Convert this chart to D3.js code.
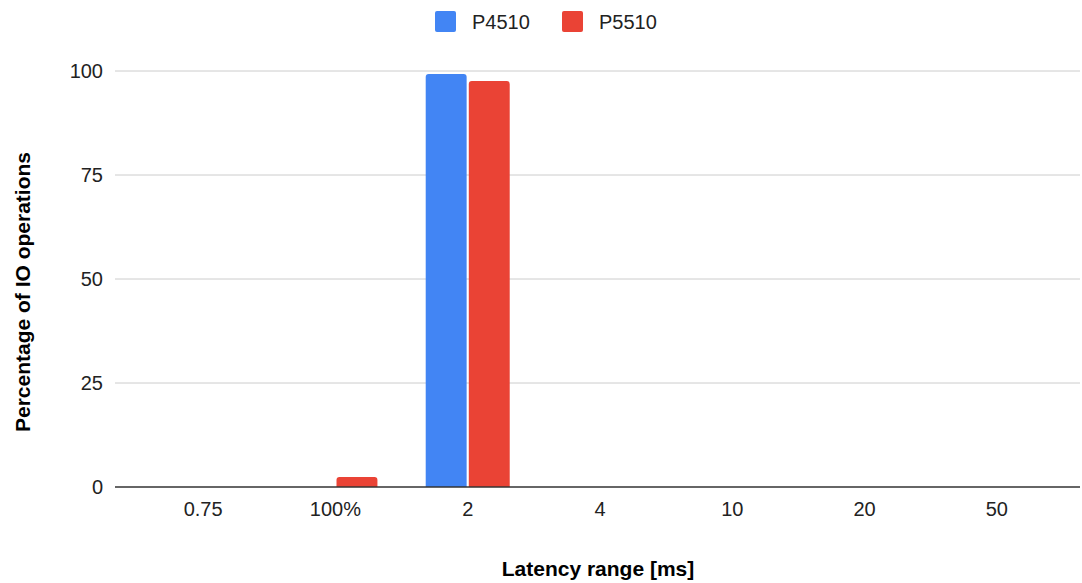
<!DOCTYPE html>
<html>
<head>
<meta charset="utf-8">
<script src="https://cdn.jsdelivr.net/npm/d3@7"></script>
<style>
  body { margin: 0; background: #fff; font-family: "Liberation Sans", Arial, sans-serif; }
  svg text { font-family: "Liberation Sans", Arial, sans-serif; }
</style>
</head>
<body>
<div id="chart"></div>
<script>
// data
var categories = ["0.75", "100%", "2", "4", "10", "20", "50"];
var seriesNames = ["P4510", "P5510"];
var p4510 = [0, 0, 99.3, 0, 0, 0, 0];
var p5510 = [0, 2.4, 97.6, 0, 0, 0, 0];
var yTicks = [0, 25, 50, 75, 100];
var colors = ["#4285F4", "#EA4335"];

var width = 1082, height = 583;

var svg = d3.select("#chart").append("svg")
  .attr("width", width)
  .attr("height", height);

var x = d3.scaleBand()
  .domain(categories)
  .range([137, 1063]);

var xInner = d3.scaleBand()
  .domain(seriesNames)
  .range([0, x.bandwidth() * 0.635])
  .paddingInner(0.05);

var y = d3.scaleLinear()
  .domain([0, 100])
  .range([487, 71]);

// gridlines
svg.append("g").selectAll("line")
  .data(yTicks.filter(function(d) { return d !== 0; }))
  .enter().append("line")
  .attr("x1", 115).attr("x2", 1080)
  .attr("y1", function(d) { return y(d); })
  .attr("y2", function(d) { return y(d); })
  .attr("stroke", "#cccccc")
  .attr("stroke-width", 1);

// y tick labels
svg.append("g").selectAll("text")
  .data(yTicks)
  .enter().append("text")
  .attr("x", 103)
  .attr("y", function(d) { return y(d); })
  .attr("dy", "0.35em")
  .attr("text-anchor", "end")
  .attr("font-size", 20)
  .attr("fill", "#222")
  .text(function(d) { return d; });

// bars
var rows = categories.map(function(c, i) {
  return { cat: c, vals: [p4510[i], p5510[i]] };
});

function barPath(x0, w, yTop, yBase) {
  var r = Math.min(3, (yBase - yTop) / 2, w / 2);
  return "M" + x0 + "," + yBase +
    "V" + (yTop + r) +
    "Q" + x0 + "," + yTop + " " + (x0 + r) + "," + yTop +
    "H" + (x0 + w - r) +
    "Q" + (x0 + w) + "," + yTop + " " + (x0 + w) + "," + (yTop + r) +
    "V" + yBase + "Z";
}

var groupOffset = (x.bandwidth() - xInner.range()[1]) / 2;

var groups = svg.append("g").selectAll("g")
  .data(rows)
  .enter().append("g")
  .attr("transform", function(d) { return "translate(" + (x(d.cat) + groupOffset) + ",0)"; });

groups.selectAll("path")
  .data(function(d) {
    return d.vals.map(function(v, j) { return { name: seriesNames[j], v: v, j: j }; })
      .filter(function(e) { return e.v > 0; });
  })
  .enter().append("path")
  .attr("d", function(d) { return barPath(xInner(d.name), xInner.bandwidth(), y(d.v), y(0)); })
  .attr("fill", function(d) { return colors[d.j]; });

// baseline
svg.append("line")
  .attr("x1", 115).attr("x2", 1080)
  .attr("y1", y(0)).attr("y2", y(0))
  .attr("stroke", "#333")
  .attr("stroke-width", 1.5);

// x labels
svg.append("g").selectAll("text")
  .data(categories)
  .enter().append("text")
  .attr("x", function(d) { return x(d) + x.bandwidth() / 2; })
  .attr("y", 516)
  .attr("text-anchor", "middle")
  .attr("font-size", 20)
  .attr("fill", "#222")
  .text(function(d) { return d; });

// axis titles
svg.append("text")
  .attr("x", 598).attr("y", 576)
  .attr("text-anchor", "middle")
  .attr("font-size", 21)
  .attr("font-weight", "bold")
  .attr("fill", "#000")
  .text("Latency range [ms]");

svg.append("text")
  .attr("transform", "translate(30,292) rotate(-90)")
  .attr("text-anchor", "middle")
  .attr("font-size", 21)
  .attr("font-weight", "bold")
  .attr("fill", "#000")
  .text("Percentage of IO operations");

// legend
var legendX = [435, 562];
var legend = svg.append("g").selectAll("g")
  .data(seriesNames)
  .enter().append("g")
  .attr("transform", function(d, i) { return "translate(" + legendX[i] + ",11)"; });

legend.append("rect")
  .attr("width", 21).attr("height", 21)
  .attr("rx", 2)
  .attr("fill", function(d, i) { return colors[i]; });

legend.append("text")
  .attr("x", 37).attr("y", 17.5)
  .attr("font-size", 20)
  .attr("fill", "#222")
  .text(function(d) { return d; });
</script>
</body>
</html>
